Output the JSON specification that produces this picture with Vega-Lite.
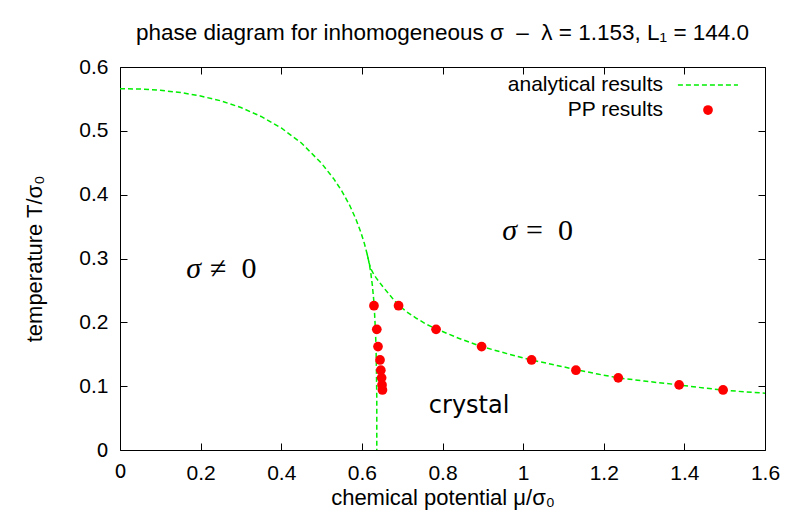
{
  "$schema": "https://vega.github.io/schema/vega-lite/v6.json",
  "width": 645,
  "height": 383,
  "autosize": {"type": "none"},
  "padding": {"left": 120, "top": 67, "right": 20, "bottom": 63},
  "background": "white",
  "config": {
    "view": {"stroke": null},
    "axis": {
      "grid": false,
      "domainColor": "black",
      "domainWidth": 1,
      "tickColor": "black",
      "tickWidth": 1,
      "labelColor": "black",
      "titleColor": "black",
      "titleFont": "Liberation Sans",
      "titleFontWeight": "normal",
      "titleFontSize": 22
    }
  },
  "title": {
    "text": "phase diagram for inhomogeneous σ\u00a0\u00a0–\u00a0\u00a0λ = 1.153, L₁ = 144.0",
    "font": "Liberation Sans",
    "fontSize": 22.5,
    "fontWeight": "normal",
    "color": "black",
    "anchor": "middle",
    "baseline": "alphabetic",
    "offset": -6
  },
  "datasets": {
    "curves": [
      {"branch": "a", "i": 0, "mu": 0, "T": 0.566},
      {"branch": "a", "i": 1, "mu": 0.05, "T": 0.5655},
      {"branch": "a", "i": 2, "mu": 0.1, "T": 0.5635},
      {"branch": "a", "i": 3, "mu": 0.15, "T": 0.56},
      {"branch": "a", "i": 4, "mu": 0.2, "T": 0.5545},
      {"branch": "a", "i": 5, "mu": 0.25, "T": 0.547},
      {"branch": "a", "i": 6, "mu": 0.3, "T": 0.5365},
      {"branch": "a", "i": 7, "mu": 0.35, "T": 0.5225},
      {"branch": "a", "i": 8, "mu": 0.4, "T": 0.5045},
      {"branch": "a", "i": 9, "mu": 0.45, "T": 0.481},
      {"branch": "a", "i": 10, "mu": 0.5, "T": 0.449},
      {"branch": "a", "i": 11, "mu": 0.53, "T": 0.425},
      {"branch": "a", "i": 12, "mu": 0.55, "T": 0.406},
      {"branch": "a", "i": 13, "mu": 0.57, "T": 0.383},
      {"branch": "a", "i": 14, "mu": 0.585, "T": 0.362},
      {"branch": "a", "i": 15, "mu": 0.597, "T": 0.342},
      {"branch": "a", "i": 16, "mu": 0.606, "T": 0.324},
      {"branch": "a", "i": 17, "mu": 0.613, "T": 0.307},
      {"branch": "a", "i": 18, "mu": 0.618, "T": 0.293},
      {"branch": "a", "i": 19, "mu": 0.622, "T": 0.278},
      {"branch": "a", "i": 20, "mu": 0.626, "T": 0.258},
      {"branch": "a", "i": 21, "mu": 0.629, "T": 0.238},
      {"branch": "a", "i": 22, "mu": 0.631, "T": 0.22},
      {"branch": "a", "i": 23, "mu": 0.633, "T": 0.195},
      {"branch": "a", "i": 24, "mu": 0.635, "T": 0.165},
      {"branch": "a", "i": 25, "mu": 0.636, "T": 0.13},
      {"branch": "a", "i": 26, "mu": 0.637, "T": 0.08},
      {"branch": "a", "i": 27, "mu": 0.637, "T": 0},
      {"branch": "b", "i": 0, "mu": 0.613, "T": 0.307},
      {"branch": "b", "i": 1, "mu": 0.618, "T": 0.293},
      {"branch": "b", "i": 2, "mu": 0.622, "T": 0.284},
      {"branch": "b", "i": 3, "mu": 0.628, "T": 0.277},
      {"branch": "b", "i": 4, "mu": 0.635, "T": 0.27},
      {"branch": "b", "i": 5, "mu": 0.641, "T": 0.265},
      {"branch": "b", "i": 6, "mu": 0.653, "T": 0.255},
      {"branch": "b", "i": 7, "mu": 0.665, "T": 0.246},
      {"branch": "b", "i": 8, "mu": 0.678, "T": 0.236},
      {"branch": "b", "i": 9, "mu": 0.691, "T": 0.227},
      {"branch": "b", "i": 10, "mu": 0.71, "T": 0.217},
      {"branch": "b", "i": 11, "mu": 0.736, "T": 0.206},
      {"branch": "b", "i": 12, "mu": 0.76, "T": 0.197},
      {"branch": "b", "i": 13, "mu": 0.784, "T": 0.19},
      {"branch": "b", "i": 14, "mu": 0.84, "T": 0.175},
      {"branch": "b", "i": 15, "mu": 0.897, "T": 0.162},
      {"branch": "b", "i": 16, "mu": 0.96, "T": 0.151},
      {"branch": "b", "i": 17, "mu": 1.021, "T": 0.141},
      {"branch": "b", "i": 18, "mu": 1.08, "T": 0.133},
      {"branch": "b", "i": 19, "mu": 1.131, "T": 0.126},
      {"branch": "b", "i": 20, "mu": 1.185, "T": 0.119},
      {"branch": "b", "i": 21, "mu": 1.236, "T": 0.113},
      {"branch": "b", "i": 22, "mu": 1.3, "T": 0.108},
      {"branch": "b", "i": 23, "mu": 1.387, "T": 0.102},
      {"branch": "b", "i": 24, "mu": 1.45, "T": 0.097},
      {"branch": "b", "i": 25, "mu": 1.496, "T": 0.094},
      {"branch": "b", "i": 26, "mu": 1.55, "T": 0.091},
      {"branch": "b", "i": 27, "mu": 1.6, "T": 0.089}
    ],
    "pp": [
      {"mu": 0.63, "T": 0.226},
      {"mu": 0.637, "T": 0.189},
      {"mu": 0.64, "T": 0.162},
      {"mu": 0.645, "T": 0.141},
      {"mu": 0.647, "T": 0.125},
      {"mu": 0.649, "T": 0.113},
      {"mu": 0.65, "T": 0.102},
      {"mu": 0.651, "T": 0.094},
      {"mu": 0.691, "T": 0.226},
      {"mu": 0.784, "T": 0.189},
      {"mu": 0.897, "T": 0.162},
      {"mu": 1.021, "T": 0.141},
      {"mu": 1.131, "T": 0.125},
      {"mu": 1.236, "T": 0.113},
      {"mu": 1.387, "T": 0.102},
      {"mu": 1.496, "T": 0.094}
    ],
    "phases": [
      {"mu": 0.2109, "T": 0.269, "sym": "σ", "rel": "≠\u00a0\u00a00"},
      {"mu": 0.995, "T": 0.329, "sym": "σ", "rel": "=\u00a0\u00a00"}
    ],
    "region": [
      {"mu": 0.866, "T": 0.0584, "label": "crystal"}
    ],
    "keytext": [
      {"mu": 1.347, "T": 0.5718, "label": "analytical results"},
      {"mu": 1.347, "T": 0.5326, "label": "PP results"}
    ],
    "keyline": [
      {"mu": 1.384, "mu2": 1.533, "T": 0.5718}
    ],
    "keypoint": [
      {"mu": 1.4586, "T": 0.5326}
    ]
  },
  "layer": [
    {
      "data": {"name": "curves"},
      "mark": {"type": "line", "color": "#00ee00", "strokeWidth": 1.5, "strokeDash": [5, 3], "clip": true},
      "encoding": {
        "x": {
          "field": "mu", "type": "quantitative",
          "scale": {"domain": [0, 1.6], "nice": false, "zero": false},
          "axis": {
            "orient": "bottom",
            "values": [0, 0.2, 0.4, 0.6, 0.8, 1, 1.2, 1.4, 1.6],
            "format": "~g",
            "tickSize": -7,
            "labelPadding": 19,
            "labelFont": {"condition": {"test": "datum.value == 0", "value": "DejaVu Sans"}, "value": "Liberation Sans"},
            "labelFontSize": {"condition": {"test": "datum.value == 0", "value": 19}, "value": 21},
            "labelFlush": false,
            "labelOverlap": false,
            "title": "chemical potential μ/σ₀",
            "titlePadding": 4
          }
        },
        "y": {
          "field": "T", "type": "quantitative",
          "scale": {"domain": [0, 0.6], "nice": false, "zero": false},
          "axis": {
            "orient": "left",
            "values": [0, 0.1, 0.2, 0.3, 0.4, 0.5, 0.6],
            "format": "~g",
            "tickSize": -7,
            "labelPadding": 19,
            "labelFont": {"condition": {"test": "datum.value == 0", "value": "DejaVu Sans"}, "value": "Liberation Sans"},
            "labelFontSize": {"condition": {"test": "datum.value == 0", "value": 19}, "value": 21},
            "labelFlush": false,
            "labelOverlap": false,
            "title": "temperature T/σ₀",
            "titlePadding": 32
          }
        },
        "detail": {"field": "branch"},
        "order": {"field": "i", "type": "quantitative"}
      }
    },
    {
      "data": {"name": "pp"},
      "mark": {"type": "point", "shape": "circle", "filled": true, "color": "#ff0000", "opacity": 1, "size": 95},
      "encoding": {
        "x": {
          "field": "mu", "type": "quantitative",
          "axis": {
            "orient": "top",
            "values": [0, 0.2, 0.4, 0.6, 0.8, 1, 1.2, 1.4, 1.6],
            "labels": false,
            "tickSize": -7,
            "title": null
          }
        },
        "y": {
          "field": "T", "type": "quantitative",
          "axis": {
            "orient": "right",
            "values": [0, 0.1, 0.2, 0.3, 0.4, 0.5, 0.6],
            "labels": false,
            "tickSize": -7,
            "title": null
          }
        }
      }
    },
    {
      "data": {"name": "phases"},
      "mark": {"type": "text", "font": "Liberation Serif", "fontSize": 30, "fontStyle": "italic", "align": "right", "baseline": "alphabetic", "dx": -4, "color": "black"},
      "encoding": {
        "x": {"field": "mu", "type": "quantitative", "axis": null},
        "y": {"field": "T", "type": "quantitative", "axis": null},
        "text": {"field": "sym"}
      }
    },
    {
      "data": {"name": "phases"},
      "mark": {"type": "text", "font": "Liberation Serif", "fontSize": 30, "align": "left", "baseline": "alphabetic", "dx": 5, "color": "black"},
      "encoding": {
        "x": {"field": "mu", "type": "quantitative", "axis": null},
        "y": {"field": "T", "type": "quantitative", "axis": null},
        "text": {"field": "rel"}
      }
    },
    {
      "data": {"name": "region"},
      "mark": {"type": "text", "font": "DejaVu Sans", "fontSize": 24, "align": "center", "baseline": "alphabetic", "color": "black"},
      "encoding": {
        "x": {"field": "mu", "type": "quantitative", "axis": null},
        "y": {"field": "T", "type": "quantitative", "axis": null},
        "text": {"field": "label"}
      }
    },
    {
      "data": {"name": "keytext"},
      "mark": {"type": "text", "font": "Liberation Sans", "fontSize": 21, "align": "right", "baseline": "middle", "color": "black"},
      "encoding": {
        "x": {"field": "mu", "type": "quantitative", "axis": null},
        "y": {"field": "T", "type": "quantitative", "axis": null},
        "text": {"field": "label"}
      }
    },
    {
      "data": {"name": "keyline"},
      "mark": {"type": "rule", "color": "#00ee00", "strokeWidth": 1.5, "strokeDash": [5, 3]},
      "encoding": {
        "x": {"field": "mu", "type": "quantitative", "axis": null},
        "x2": {"field": "mu2"},
        "y": {"field": "T", "type": "quantitative", "axis": null}
      }
    },
    {
      "data": {"name": "keypoint"},
      "mark": {"type": "point", "shape": "circle", "filled": true, "color": "#ff0000", "opacity": 1, "size": 95},
      "encoding": {
        "x": {"field": "mu", "type": "quantitative", "axis": null},
        "y": {"field": "T", "type": "quantitative", "axis": null}
      }
    }
  ],
  "resolve": {"axis": {"x": "independent", "y": "independent"}}
}
